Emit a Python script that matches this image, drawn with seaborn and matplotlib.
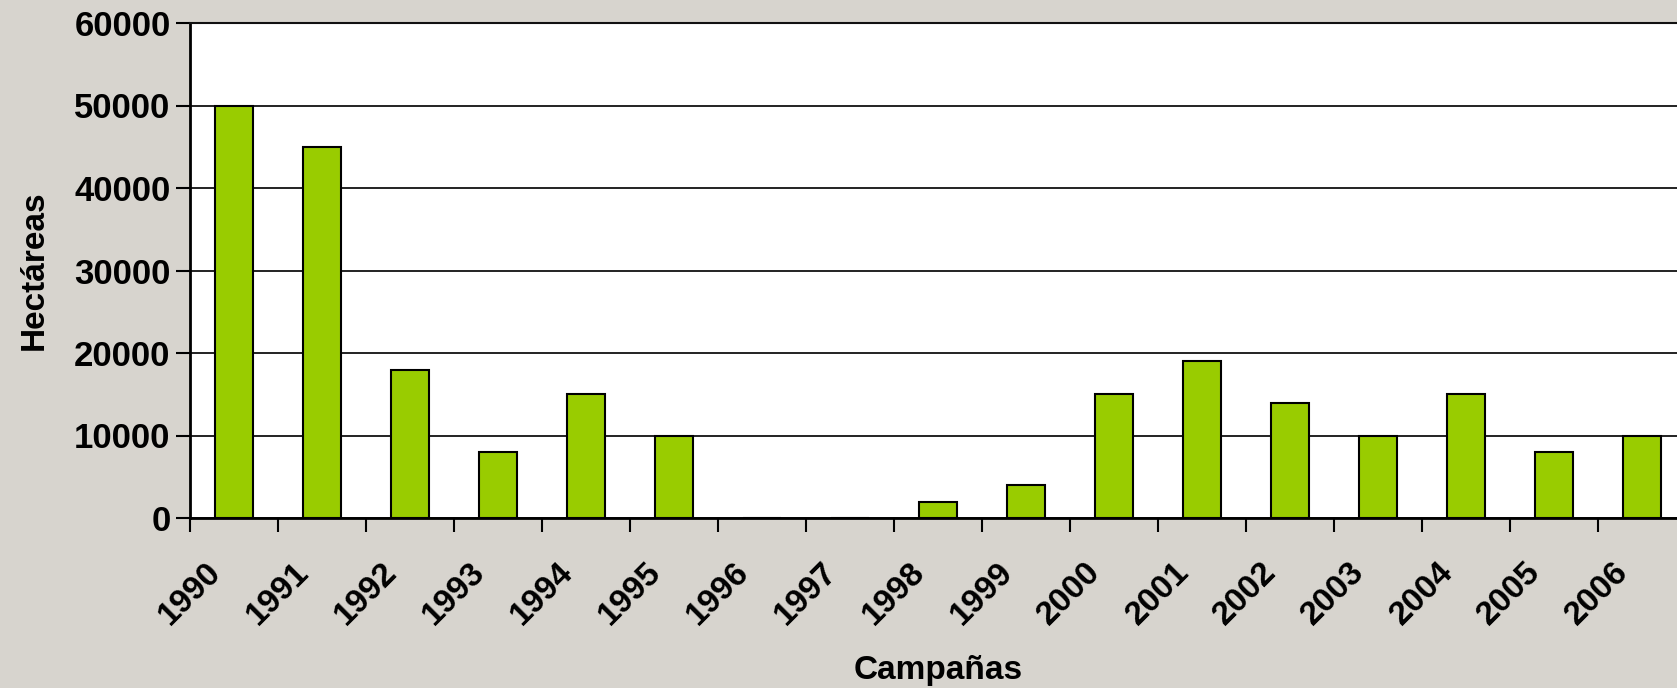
import numpy as np
import pandas as pd
import matplotlib
matplotlib.use("Agg")
import matplotlib.pyplot as plt
import matplotlib.transforms as mtransforms
import seaborn as sns

# datos
campanas = ["1990", "1991", "1992", "1993", "1994", "1995", "1996", "1997", "1998",
            "1999", "2000", "2001", "2002", "2003", "2004", "2005", "2006"]
hectareas = [50000, 45000, 18000, 8000, 15000, 10000, 0, 0, 2000,
             4000, 15000, 19000, 14000, 10000, 15000, 8000, 10000]
y_ticks = [0, 10000, 20000, 30000, 40000, 50000, 60000]

df = pd.DataFrame({"campana": campanas, "hectareas": hectareas})

sns.set_style("white")
plt.rcParams["font.family"] = ["Liberation Sans", "DejaVu Sans"]
plt.rcParams["font.weight"] = "bold"
for k in ["text.color", "axes.labelcolor", "xtick.color", "ytick.color"]:
    plt.rcParams[k] = "black"

FS = 24

fig = plt.figure(figsize=(16.77, 6.88), dpi=100)
fig.patch.set_facecolor("#d7d4ce")
ax = fig.add_axes([190 / 1677, 170 / 688, 1496 / 1677, 495 / 688])
ax.set_facecolor("white")

sns.barplot(data=df, x="campana", y="hectareas", color="#99cc00",
            saturation=1, width=0.43, edgecolor="black", linewidth=1.5,
            ax=ax, zorder=3)

ax.set_xlim(-0.5, len(campanas) - 0.5)
ax.set_ylim(0, 60000)
ax.set_yticks(y_ticks)
ax.set_yticklabels([str(v) for v in y_ticks], fontsize=25, fontweight="bold")
ax.yaxis.grid(True, color="#111111", linewidth=1.3, zorder=0)
ax.set_axisbelow(True)

# marcas entre categorias (estilo Excel)
ax.set_xticks(np.arange(len(campanas)))
ax.set_xticklabels(campanas, rotation=45, ha="right", rotation_mode="anchor",
                   fontsize=FS, fontweight="bold")
ax.set_xticks(np.arange(len(campanas) + 1) - 0.5, minor=True)
ax.tick_params(axis="x", which="major", length=0, pad=24)
ax.tick_params(axis="x", which="minor", length=10, width=1.5, color="black",
               direction="out", bottom=True)
ax.tick_params(axis="y", length=10, width=1.5, color="black",
               direction="out", left=True, pad=4)

# desplazar etiquetas a la izquierda
offset = mtransforms.ScaledTranslation(-29 / 100, -5 / 100, fig.dpi_scale_trans)
for lab in ax.get_xticklabels():
    lab.set_transform(lab.get_transform() + offset)

for s in ["left", "bottom"]:
    ax.spines[s].set_color("black")
    ax.spines[s].set_linewidth(2)
ax.spines["top"].set_color("#111111")
ax.spines["top"].set_linewidth(1.5)
ax.spines["right"].set_visible(False)

ax.set_xlabel("Campañas", fontsize=FS, fontweight="bold")
ax.set_ylabel("Hectáreas", fontsize=FS, fontweight="bold")
ax.xaxis.set_label_coords(0.5, (518 - 655) / 495)
ax.yaxis.set_label_coords((50 - 190) / 1496, 0.5)

fig.savefig("out.png", dpi=100, facecolor=fig.get_facecolor())
